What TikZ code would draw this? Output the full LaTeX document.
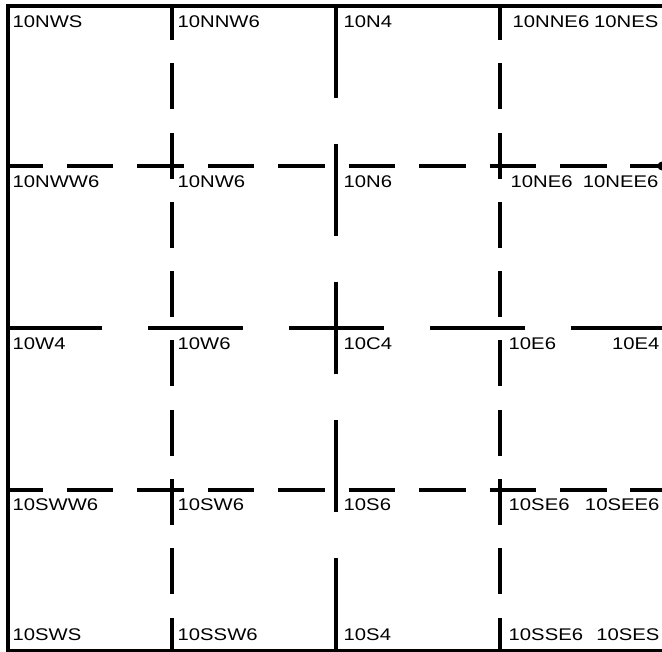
\documentclass[tikz,border=0pt]{standalone}
\usepackage{fontspec}
\usepackage{tikz}
\usetikzlibrary{calc,positioning}
\newfontfamily\cadfont{Liberation Sans}[FakeStretch=1.2]
\tikzset{
  wall/.style={line width=0.4mm,black},
  hshort/.style={wall,dash pattern=on 4.65mm off 2.39mm,dash phase=1.15mm},
  vshort/.style={wall,dash pattern=on 4.6mm off 2.325mm,dash phase=1.2mm},
  hlong/.style={wall,dash pattern=on 9.5mm off 4.6mm,dash phase=0.1mm},
  vlong/.style={wall,dash pattern=on 9.2mm off 4.6mm,dash phase=0mm},
  lbl/.style={anchor=north west,inner sep=0pt,font=\cadfont\fontsize{4.8}{5}\selectfont},
  lblr/.style={lbl,anchor=north east}
}
\begin{document}
\begin{tikzpicture}[x=0.01cm,y=-0.01cm]
\useasboundingbox (0,0) rectangle (662,651);
\coordinate (NW) at (8,6); \coordinate (NE) at (662,6);
\coordinate (SW) at (8,650.5); \coordinate (SE) at (662,650.5);
\coordinate (c1n) at (172,6); \coordinate (c1s) at (172,649);
\coordinate (c2n) at (336,6); \coordinate (c2s) at (336,649);
\coordinate (c3n) at (500,6); \coordinate (c3s) at (500,649);
\coordinate (r1w) at (8,166); \coordinate (r1e) at (662,166);
\coordinate (r2w) at (8,328); \coordinate (r2e) at (662,328);
\coordinate (r3w) at (8,490); \coordinate (r3e) at (662,490);
% outline
\draw[wall] (NE)--(NW)--(SW)--(SE);
% grid lines
\draw[vshort] (c1n)--(c1s);
\draw[vlong] (c2n)--(c2s);
\draw[vshort] (c3n)--(c3s);
\draw[hshort] (r1w)--(r1e);
\draw[hlong] (r2w)--(r2e);
\draw[hshort] (r3w)--(r3e);
\fill (r1e) circle (4.5);
% labels
\node[lbl] (nws) at (12,15) {10NWS};
\node[lbl] (nnw6) at (177,15) {10NNW6};
\node[lbl] (n4) at (343,15) {10N4};
\node[lbl] (nne6) at (512,15) {10NNE6};
\node[lblr] (nes) at (659,15) {10NES};
\node[lbl] (nww6) at (12,175) {10NWW6};
\node[lbl] (nw6) at (177,175) {10NW6};
\node[lbl] (n6) at (343,175) {10N6};
\node[lbl] (ne6) at (510,175) {10NE6};
\node[lblr] (nee6) at (659,175) {10NEE6};
\node[lbl] (w4) at (12,337) {10W4};
\node[lbl] (w6) at (177,337) {10W6};
\node[lbl] (c4) at (343,337) {10C4};
\node[lbl] (e6) at (508,337) {10E6};
\node[lblr] (e4) at (660,337) {10E4};
\node[lbl] (sww6) at (12,498) {10SWW6};
\node[lbl] (sw6) at (177,498) {10SW6};
\node[lbl] (s6) at (343,498) {10S6};
\node[lbl] (se6) at (508,498) {10SE6};
\node[lblr] (see6) at (660,498) {10SEE6};
\node[lbl] (sws) at (12,628) {10SWS};
\node[lbl] (ssw6) at (177,628) {10SSW6};
\node[lbl] (s4) at (343,628) {10S4};
\node[lbl] (sse6) at (508,628) {10SSE6};
\node[lblr] (ses) at (660,628) {10SES};
\end{tikzpicture}
\end{document}
